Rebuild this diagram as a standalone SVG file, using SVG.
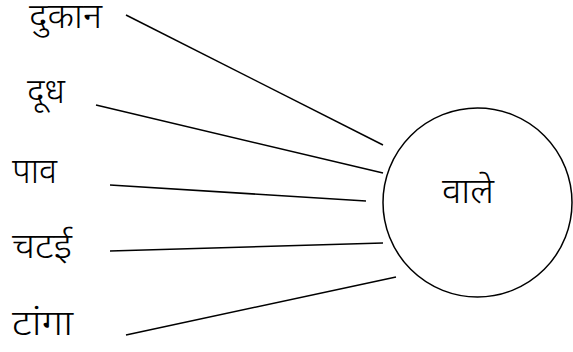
<svg xmlns="http://www.w3.org/2000/svg" width="573" height="352" viewBox="0 0 573 352">
<style>
text{font-family:"Noto Sans Devanagari","Noto Sans",sans-serif;font-size:35px;font-weight:300;fill:#000}
.c{fill:none;stroke:#000;stroke-width:1.5}
</style>
<rect width="573" height="352" fill="#fff"/>
<g id="connectors" stroke="#000" stroke-width="1.5">
<line x1="126" y1="15" x2="383" y2="145"/>
<line x1="96" y1="105" x2="383" y2="173"/>
<line x1="110" y1="185" x2="366" y2="201"/>
<line x1="110" y1="251" x2="383" y2="243"/>
<line x1="126" y1="335" x2="396" y2="277"/>
</g>
<g id="n1"><text x="29" y="28" textLength="73" lengthAdjust="spacingAndGlyphs">दुकान</text></g>
<g id="n2"><text x="27" y="103" textLength="38" lengthAdjust="spacingAndGlyphs">दूध</text></g>
<g id="n3"><text x="12" y="183" textLength="45" lengthAdjust="spacingAndGlyphs">पाव</text></g>
<g id="n4"><text x="12" y="258" textLength="60" lengthAdjust="spacingAndGlyphs">चटई</text></g>
<g id="n5"><text x="12" y="335" textLength="61" lengthAdjust="spacingAndGlyphs">टांगा</text></g>
<g id="hub"><circle class="c" cx="477.5" cy="202.5" r="94.5"/><text x="442" y="203" textLength="52" lengthAdjust="spacingAndGlyphs">वाले</text></g>
</svg>
